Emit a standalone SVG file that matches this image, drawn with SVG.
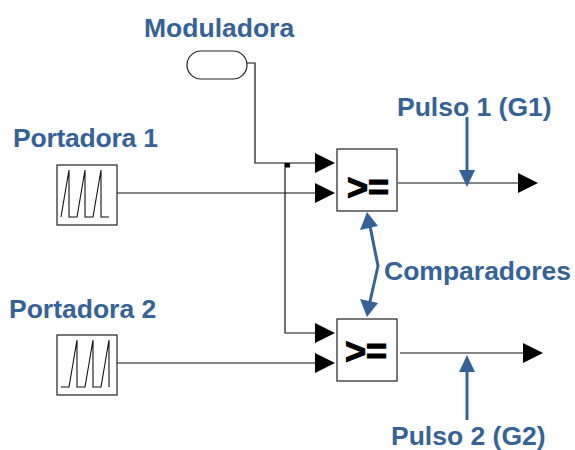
<svg xmlns="http://www.w3.org/2000/svg" width="575" height="450" viewBox="0 0 575 450">
<defs><style>
.b{fill:#fff;stroke:#222;stroke-width:1.2}
.c{fill:none;stroke:#111;stroke-width:1.2}
.w{fill:none;stroke:#111;stroke-width:1.1}
.h{fill:#000;stroke:none}
.bl{fill:none;stroke:#36629a;stroke-width:3}
.bh{fill:#36629a;stroke:none}
.l{font-family:"Liberation Sans",Arial,sans-serif;font-weight:700;font-size:26.500px;fill:#36629a}
.o{font-family:"Liberation Sans",Arial,sans-serif;font-weight:700;font-size:36px;fill:#000;stroke:#000;stroke-width:1.2}
</style></defs>
<rect width="575" height="450" fill="#fff"/>
<g id="connectors">
<path class="c" d="M246 63H255V163H318"/>
<path class="c" d="M115 193H318"/>
<path class="c" d="M285 163V333H318"/>
<path class="c" d="M115 363H318"/>
<path class="c" d="M398 183H520"/>
<path class="c" d="M400 353H525"/>
<rect x="285" y="163" width="5" height="4.500" fill="#000"/>
<path class="h" d="M315 153L335 163L315 173Z"/>
<path class="h" d="M315 183L335 193L315 203Z"/>
<path class="h" d="M315 323L335 333L315 343Z"/>
<path class="h" d="M315 353L335 363L315 373Z"/>
<path class="h" d="M518 173L538 183L518 193Z"/>
<path class="h" d="M523 343L543 353L523 363Z"/>
</g>
<g id="moduladora"><rect class="b" x="187" y="51" width="60" height="28" rx="14" ry="14"/><text class="l" x="144" y="37">Moduladora</text></g>
<g id="portadora1"><rect class="b" x="57" y="165" width="60" height="60"/><path class="w" d="M61 217L69 170V217H77L85 170V217H93L101 170V217H109"/><text class="l" x="13" y="147" textLength="145">Portadora 1</text></g>
<g id="portadora2"><rect class="b" x="57" y="335" width="60" height="60"/><path class="w" d="M61 387H69L77 340V387H85L93 340V387H101L109 340V387"/><text class="l" x="9" y="318">Portadora 2</text></g>
<g id="comparador1"><rect class="b" x="337" y="149" width="60" height="62"/><text class="o" x="347" y="200">&gt;=</text></g>
<g id="comparador2"><rect class="b" x="337" y="319" width="60" height="62"/><text class="o" x="345" y="364">&gt;=</text></g>
<g id="pulso1"><path class="bl" d="M467 117V172"/><path class="bh" d="M459 170H475L467 187Z"/><text class="l" x="397" y="116">Pulso 1 (G1)</text></g>
<g id="pulso2"><path class="bl" d="M467 420V368"/><path class="bh" d="M459 372H475L467 355Z"/><text class="l" x="391" y="445">Pulso 2 (G2)</text></g>
<g id="comparadores"><path class="bl" d="M370 226L378 266L369 306"/><path class="bh" d="M367 212L378 226L360 230Z"/><path class="bh" d="M367 317L378 303L360 299Z"/><text class="l" x="384" y="280">Comparadores</text></g>
</svg>
